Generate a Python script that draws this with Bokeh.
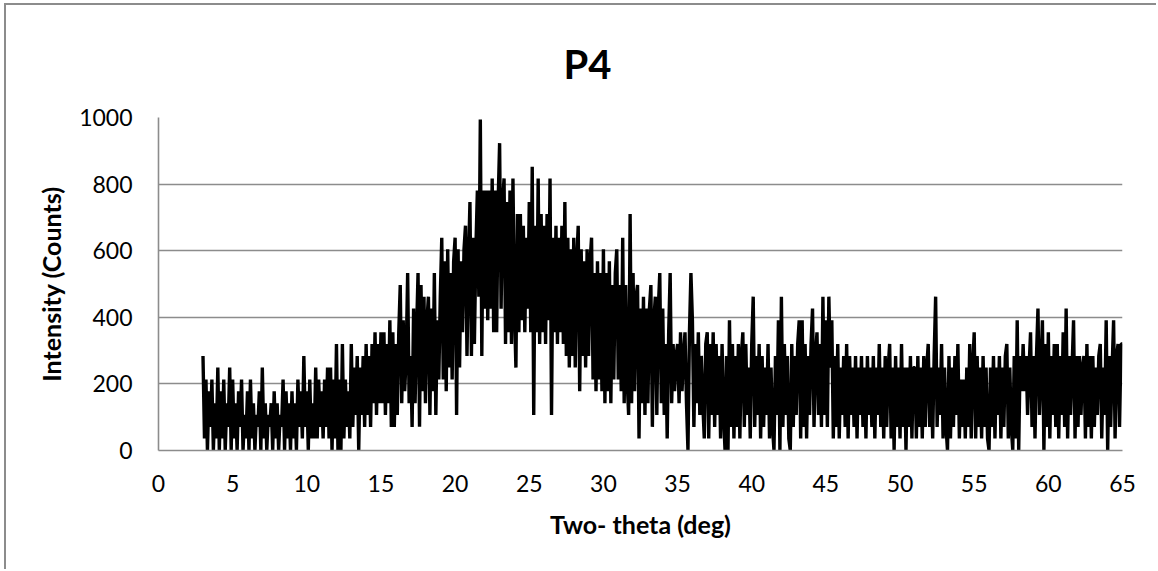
import numpy as np
from bokeh.plotting import figure
from bokeh.models import FixedTicker
from bokeh.embed import file_html
from bokeh.resources import INLINE

# Two-theta grid (deg) and intensity (counts)
theta_start = 3.0
theta_step = 0.1
intensity = [
    284, 36, 213, 0, 178, 71, 213, 0, 142, 36,
    249, 0, 178, 36, 213, 0, 142, 71, 249, 0,
    213, 36, 142, 0, 178, 71, 213, 0, 107, 36,
    178, 0, 213, 36, 142, 0, 107, 71, 178, 0,
    249, 36, 142, 0, 107, 71, 142, 0, 178, 36,
    142, 0, 107, 71, 213, 0, 178, 36, 142, 0,
    178, 36, 142, 0, 213, 71, 178, 36, 284, 71,
    178, 0, 213, 36, 142, 36, 249, 36, 213, 71,
    178, 36, 213, 71, 249, 36, 249, 0, 213, 36,
    320, 0, 213, 0, 320, 36, 213, 71, 178, 36,
    320, 71, 249, 107, 284, 0, 249, 107, 284, 71,
    320, 107, 284, 71, 320, 142, 355, 107, 320, 142,
    355, 142, 355, 107, 320, 142, 391, 71, 355, 71,
    320, 107, 355, 497, 142, 391, 178, 284, 533, 142,
    284, 71, 426, 142, 355, 533, 71, 497, 178, 462,
    142, 391, 462, 107, 426, 178, 533, 107, 391, 213,
    462, 639, 213, 568, 178, 604, 249, 533, 213, 568,
    639, 107, 604, 249, 568, 355, 604, 675, 284, 568,
    746, 284, 639, 320, 604, 781, 462, 994, 284, 781,
    426, 781, 391, 781, 426, 817, 355, 781, 355, 746,
    923, 426, 746, 817, 320, 746, 355, 781, 320, 817,
    426, 249, 710, 355, 710, 391, 675, 355, 639, 426,
    746, 355, 852, 107, 675, 355, 817, 320, 710, 355,
    675, 320, 710, 391, 817, 107, 639, 355, 675, 320,
    639, 355, 675, 320, 746, 284, 639, 249, 604, 284,
    639, 249, 568, 675, 178, 604, 284, 568, 249, 604,
    284, 568, 639, 213, 533, 178, 568, 213, 533, 178,
    604, 142, 533, 178, 568, 142, 497, 213, 533, 604,
    213, 497, 178, 639, 142, 497, 213, 107, 710, 142,
    533, 178, 462, 497, 36, 426, 142, 462, 107, 426,
    142, 426, 497, 71, 391, 462, 107, 426, 533, 142,
    426, 107, 320, 36, 355, 533, 142, 320, 178, 284,
    320, 142, 355, 178, 284, 355, 142, 0, 355, 533,
    391, 71, 320, 142, 355, 107, 284, 142, 36, 320,
    355, 36, 320, 107, 355, 71, 320, 107, 284, 36,
    320, 107, 0, 284, 0, 391, 71, 320, 36, 284,
    71, 320, 36, 284, 355, 71, 320, 107, 249, 36,
    320, 462, 71, 284, 107, 320, 36, 284, 71, 249,
    107, 320, 36, 249, 71, 0, 284, 107, 391, 0,
    462, 71, 320, 107, 284, 36, 0, 320, 71, 284,
    107, 320, 391, 36, 391, 71, 320, 36, 284, 107,
    320, 426, 71, 284, 355, 107, 320, 71, 462, 107,
    391, 71, 462, 249, 391, 36, 284, 71, 320, 36,
    249, 107, 284, 71, 320, 36, 284, 107, 249, 71,
    284, 36, 249, 107, 284, 71, 249, 36, 284, 107,
    249, 71, 284, 36, 249, 107, 320, 71, 249, 36,
    284, 71, 249, 320, 36, 249, 0, 284, 71, 249,
    36, 320, 71, 249, 0, 249, 71, 284, 36, 249,
    249, 36, 284, 71, 249, 36, 284, 71, 249, 320,
    71, 249, 36, 284, 462, 71, 249, 107, 320, 36,
    249, 71, 0, 284, 36, 249, 71, 284, 107, 320,
    36, 213, 71, 213, 36, 249, 71, 320, 36, 249,
    355, 36, 284, 71, 249, 36, 284, 71, 249, 36,
    0, 249, 71, 284, 36, 249, 107, 284, 36, 249,
    71, 284, 320, 36, 249, 71, 0, 284, 36, 391,
    0, 284, 178, 320, 178, 284, 107, 249, 355, 71,
    284, 36, 284, 426, 107, 249, 391, 0, 320, 71,
    355, 36, 284, 107, 320, 71, 320, 36, 284, 107,
    355, 71, 426, 36, 284, 107, 249, 391, 36, 284,
    71, 284, 107, 249, 284, 36, 320, 71, 284, 36,
    284, 71, 249, 107, 284, 320, 36, 249, 107, 391,
    0, 284, 71, 249, 391, 36, 284, 320, 71, 320,
    320,
]
two_theta = [round(theta_start + i * theta_step, 2) for i in range(len(intensity))]

x_ticks = [0, 5, 10, 15, 20, 25, 30, 35, 40, 45, 50, 55, 60, 65]
y_ticks = [0, 200, 400, 600, 800, 1000]

title_text = "P4"
x_label = "Two- theta (deg)"
y_label = "Intensity (Counts)"

FONT = "Lato"
GRID = "#8c8c8c"

p = figure(width=1152, height=566, output_backend="svg", toolbar_location=None,
           x_range=(0, 65), y_range=(0, 1000),
           min_border_left=152, min_border_right=36,
           min_border_top=112, min_border_bottom=121,
           title=title_text)
p.styles = {"border-top": "2px solid #8c8c8c", "border-left": "2px solid #8c8c8c",
            "margin-left": "4px", "margin-top": "3px"}
p.outline_line_color = None
p.background_fill_color = "white"
p.border_fill_color = "white"

p.title.align = "left"
p.title.offset = 405
p.title.standoff = 60
p.title.text_font = FONT
p.title.text_font_style = "bold"
p.title.text_font_size = "40px"
p.title.text_color = "black"

p.line(two_theta, intensity, line_color="black", line_width=3.4)

p.xaxis.ticker = FixedTicker(ticks=x_ticks)
p.yaxis.ticker = FixedTicker(ticks=y_ticks)
for ax in (p.xaxis[0], p.yaxis[0]):
    ax.major_tick_line_color = None
    ax.minor_tick_line_color = None
    ax.major_tick_out = 0
    ax.major_tick_in = 0
    ax.axis_line_color = GRID
    ax.axis_line_width = 1.6
    ax.major_label_text_font = FONT
    ax.major_label_text_font_size = "23px"
    ax.major_label_text_color = "black"
    ax.axis_label_text_font = FONT
    ax.axis_label_text_font_style = "bold"
    ax.axis_label_text_font_size = "25px"
    ax.axis_label_text_color = "black"
p.yaxis.major_label_standoff = 26
p.xaxis.major_label_standoff = 24
p.xaxis.axis_label = x_label
p.yaxis.axis_label = y_label
p.xaxis.axis_label_standoff = 14
p.yaxis.axis_label_standoff = 10

p.xgrid.grid_line_color = None
p.ygrid.grid_line_color = GRID
p.ygrid.grid_line_width = 1.6

open("out.html", "w").write(file_html(p, INLINE))
